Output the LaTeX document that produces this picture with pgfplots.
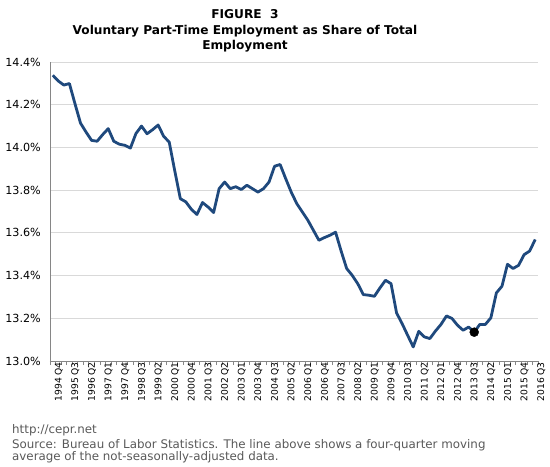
\documentclass[border=0pt]{standalone}
\usepackage{pgfplots}
\pgfplotsset{compat=1.18}
\usepackage{fontspec}
\setmainfont{DejaVu Sans}
\definecolor{linecol}{RGB}{31,73,125}
\definecolor{gridcol}{RGB}{217,217,217}
\definecolor{axiscol}{RGB}{134,134,134}
\definecolor{notecol}{RGB}{89,89,89}
\pgfplotstableread{
i v
0 14.338
1 14.311
2 14.292
3 14.299
4 14.205
5 14.114
6 14.072
7 14.033
8 14.029
9 14.060
10 14.088
11 14.029
12 14.015
13 14.010
14 13.997
15 14.065
16 14.100
17 14.064
18 14.083
19 14.105
20 14.052
21 14.025
22 13.890
23 13.760
24 13.745
25 13.710
26 13.686
27 13.742
28 13.721
29 13.695
30 13.807
31 13.838
32 13.807
33 13.816
34 13.803
35 13.823
36 13.807
37 13.791
38 13.807
39 13.838
40 13.912
41 13.920
42 13.854
43 13.791
44 13.737
45 13.698
46 13.659
47 13.612
48 13.565
49 13.578
50 13.589
51 13.603
52 13.515
53 13.433
54 13.401
55 13.362
56 13.311
57 13.308
58 13.303
59 13.342
60 13.378
61 13.362
62 13.225
63 13.175
64 13.120
65 13.066
66 13.139
67 13.113
68 13.105
69 13.140
70 13.171
71 13.211
72 13.199
73 13.167
74 13.144
75 13.159
76 13.135
77 13.171
78 13.171
79 13.202
80 13.319
81 13.350
82 13.453
83 13.433
84 13.448
85 13.498
86 13.515
87 13.569
}\datatable
\begin{document}
\begin{tikzpicture}
\path[use as bounding box] (-50bp,-106bp) rectangle (500bp,361bp);
\begin{axis}[
  scale only axis, width=488bp, height=299bp,
  at={(0,0)}, anchor=south west,
  xmin=-0.5, xmax=87.5, ymin=13.0, ymax=14.4,
  axis x line*=bottom, axis y line*=left,
  axis line style={-, draw=axiscol, line width=0.8bp},
  ytick={13.0,13.2,13.4,13.6,13.8,14.0,14.2,14.4},
  yticklabels={13.0\%,13.2\%,13.4\%,13.6\%,13.8\%,14.0\%,14.2\%,14.4\%},
  ymajorgrids, grid style={gridcol, line width=0.8bp},
  major tick length=0pt,
  xtick={0,3,...,87},
  xticklabels={1994 Q4,1995 Q3,1996 Q2,1997 Q1,1997 Q4,1998 Q3,1999 Q2,2000 Q1,2000 Q4,2001 Q3,2002 Q2,2003 Q1,2003 Q4,2004 Q3,2005 Q2,2006 Q1,2006 Q4,2007 Q3,2008 Q2,2009 Q1,2009 Q4,2010 Q3,2011 Q2,2012 Q1,2012 Q4,2013 Q3,2014 Q2,2015 Q1,2015 Q4,2016 Q3},
  minor xtick={-0.5,0.5,...,87.5},
  minor tick length=4bp, tick align=outside,
  minor tick style={draw=axiscol, line width=0.8bp},
  xticklabel style={rotate=90, anchor=east, font=\fontsize{9.2}{10}\selectfont, yshift=-6bp, inner sep=1bp},
  yticklabel style={font=\fontsize{11.2}{12}\selectfont, xshift=-8bp, inner sep=1bp},
  clip=false,
]
\addplot[linecol, line width=2.8bp, line join=round, mark=none] table[x=i, y=v] {\datatable};
\addplot[only marks, mark=*, mark size=4.5bp, black] coordinates {(76,13.135)};
\end{axis}
\node[anchor=base, font=\bfseries\fontsize{12.2}{13}\selectfont] at (195bp,342bp) {FIGURE\ \ 3};
\node[anchor=base, font=\bfseries\fontsize{12.2}{13}\selectfont] at (195bp,326.7bp) {Voluntary Part-Time Employment as Share of Total};
\node[anchor=base, font=\bfseries\fontsize{12.2}{13}\selectfont] at (195bp,311.7bp) {Employment};
\node[anchor=base west, inner sep=0pt, text=notecol, font=\fontsize{11.9}{13}\selectfont] at (-38bp,-72.3bp) {http://cepr.net};
\node[anchor=base west, inner sep=0pt, text=notecol, font=\fontsize{11.9}{13}\selectfont] at (-38bp,-87.3bp) {Source: Bureau of Labor Statistics. The line above shows a four-quarter moving};
\node[anchor=base west, inner sep=0pt, text=notecol, font=\fontsize{11.9}{13}\selectfont] at (-38bp,-99.7bp) {average of the not-seasonally-adjusted data.};
\end{tikzpicture}
\end{document}
